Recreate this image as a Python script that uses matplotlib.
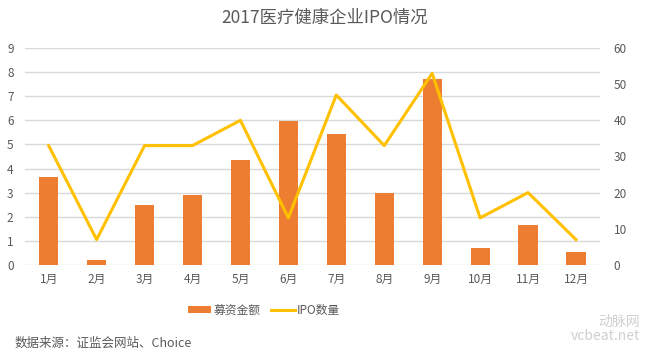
import matplotlib
matplotlib.use('Agg')
import matplotlib.pyplot as plt
import numpy as np

plt.rcParams['font.family'] = ['Noto Sans CJK SC', 'DejaVu Sans']

months = ['1月', '2月', '3月', '4月', '5月', '6月', '7月', '8月', '9月', '10月', '11月', '12月']
funds = [3.65, 0.2, 2.5, 2.9, 4.35, 5.97, 5.45, 2.97, 7.7, 0.7, 1.65, 0.55]
ipo_count = [33, 7, 33, 33, 40, 13, 47, 33, 53, 13, 20, 7]

fig = plt.figure(figsize=(6.5, 3.56), dpi=100)
ax = fig.add_axes([0.038, 0.256, 0.885, 0.609])
ax2 = ax.twinx()

x = np.arange(len(months))
bars = ax.bar(x, funds, width=0.4, color='#ED7D31', label='募资金额', zorder=2)
line, = ax2.plot(x, ipo_count, color='#FFC000', linewidth=2.2, label='IPO数量', zorder=3)

ax.set_ylim(0, 9)
ax.set_yticks(range(0, 10))
ax2.set_ylim(0, 60)
ax2.set_yticks(range(0, 61, 10))
ax.set_xlim(-0.5, 11.5)
ax.set_xticks(x)
ax.set_xticklabels(months)

ax.grid(axis='y', color='#D9D9D9', linewidth=1, zorder=0)
ax.set_axisbelow(True)
for a in (ax, ax2):
    for s in a.spines.values():
        s.set_visible(False)
    a.tick_params(length=0, labelsize=8.5, colors='#595959')
ax.tick_params(axis='x', pad=6)
ax.tick_params(axis='y', pad=8)
ax2.tick_params(axis='y', pad=10)

fig.text(0.5, 0.95, '2017医疗健康企业IPO情况', ha='center', va='center',
         fontsize=12.5, color='#595959')

fig.legend([bars, line], ['募资金额', 'IPO数量'], loc='center', ncol=2,
           bbox_to_anchor=(0.406, 0.129), frameon=False, fontsize=8.5,
           labelcolor='#595959', handlelength=2.0, handleheight=0.5,
           columnspacing=0.9, handletextpad=0.2)

fig.text(0.022, 0.035, '数据来源：证监会网站、Choice', ha='left', va='center',
         fontsize=9, color='#595959')

# faint watermark
fig.text(0.985, 0.075, '动脉网\nvcbeat.net', ha='right', va='center',
         fontsize=10, color='#D0D0D0', linespacing=1.0)

fig.savefig('out.png', dpi=100)
